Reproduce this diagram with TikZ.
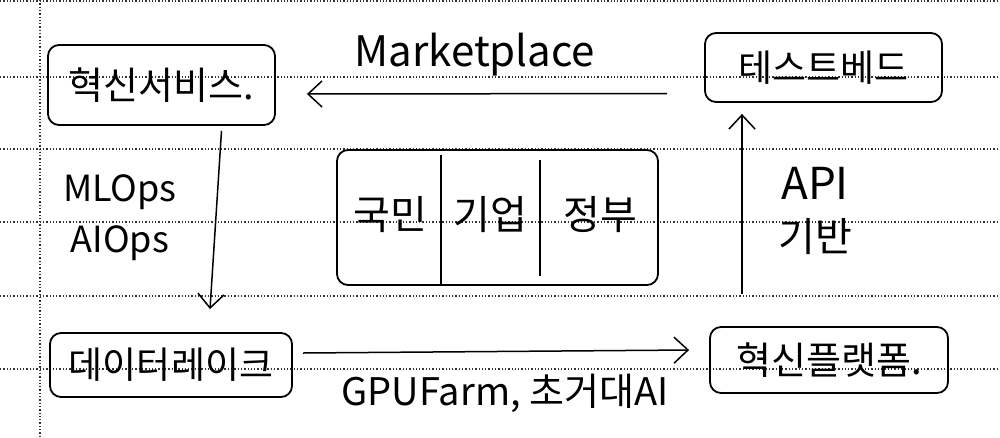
\documentclass[tikz,border=0pt]{standalone}
\usepackage{fontspec}
\setmainfont{Noto Sans CJK KR}
\usetikzlibrary{arrows.meta,calc}
\begin{document}
\begin{tikzpicture}[x=1pt,y=-1pt,
  paper/.style={dotted,line width=1.3pt,black!80},
  box/.style={draw,line width=1.8pt,rounded corners=11pt,inner sep=0pt},
  lbl/.style={inner sep=0pt,font=\fontsize{32}{34}\selectfont},
  arr/.style={line width=1.5pt,-{Straight Barb[length=14pt,width=26pt,line width=1.5pt]}}]
\useasboundingbox (0,0) rectangle (1000,437);
% paper lines
\foreach \yy in {1,77,149,222,296,369} \draw[paper] (0,\yy) -- (1000,\yy);
\draw[paper] (40,0) -- (40,437);
% boxes
\node[box,minimum width=227pt,minimum height=80pt,font=\fontsize{38}{40}\selectfont] (svc) at (161.5,85) {혁신서비스.};
\node[box,minimum width=237pt,minimum height=69pt,font=\fontsize{37}{39}\selectfont] (tb) at (823.5,67.5) {테스트베드};
\node[box,minimum width=321pt,minimum height=135pt] (mid) at (497.5,217.5) {};
\node[box,minimum width=242pt,minimum height=64pt,font=\fontsize{37}{39}\selectfont] (dl) at (171,365) {데이터레이크};
\node[box,minimum width=238pt,minimum height=66pt,font=\fontsize{38}{40}\selectfont] (pf) at (829,360) {혁신플랫폼.};
% middle box content
\coordinate (d1t) at (441,155); \coordinate (d1b) at (441,285);
\coordinate (d2t) at (540,160); \coordinate (d2b) at (540,276);
\draw[line width=1.6pt] (d1t) -- (d1b);
\draw[line width=1.6pt] (d2t) -- (d2b);
\node[lbl,font=\fontsize{40}{42}\selectfont] (p1) at (390,215) {국민};
\node[lbl,font=\fontsize{40}{42}\selectfont] (p2) at (490,215) {기업};
\node[lbl,font=\fontsize{40}{42}\selectfont] (p3) at (600,215) {정부};
% connectors
\draw[arr] ([xshift=-37pt,yshift=-26pt]tb.west) -- ([xshift=31pt,yshift=-9pt]svc.east);
\draw[arr] ([xshift=60pt,yshift=-5pt]svc.south) -- ([xshift=39pt,yshift=23pt]dl.north);
\draw[arr] ([xshift=10pt,yshift=12pt]dl.east) -- ([xshift=-20pt,yshift=10pt]pf.west);
\draw[arr] ([xshift=-87pt,yshift=32pt]pf.north) -- ([xshift=-81.5pt,yshift=-11pt]tb.south);
% labels
\node[lbl,font=\fontsize{42}{44}\selectfont] (mk) at (475,55) {Marketplace};
\node[lbl,font=\fontsize{36}{38}\selectfont] (ml) at (120,192) {MLOps};
\node[lbl,font=\fontsize{36}{38}\selectfont] (ai) at (120,243) {AIOps};
\node[lbl,font=\fontsize{44}{46}\selectfont] (api) at (815,183) {API};
\node[lbl,font=\fontsize{40}{42}\selectfont] (gb) at (815,237) {기반};
\node[lbl,font=\fontsize{38}{40}\selectfont] (gpu) at (505,393) {GPUFarm, 초거대AI};
\end{tikzpicture}
\end{document}
